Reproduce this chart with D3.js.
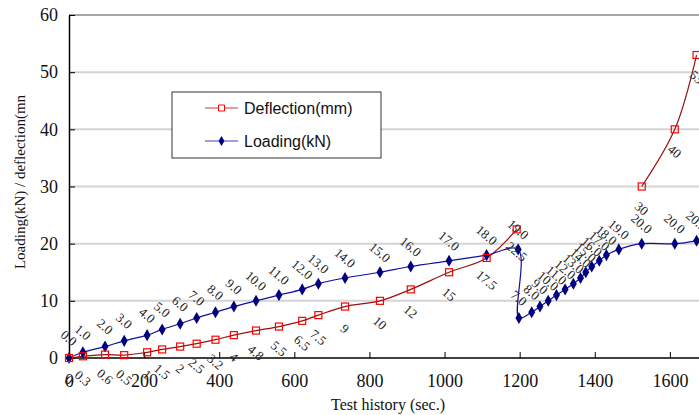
<!DOCTYPE html>
<html>
<head>
<meta charset="utf-8">
<script src="https://cdn.jsdelivr.net/npm/d3@7"></script>
<style>
  body { margin: 0; background: #fff; }
  svg { display: block; }
</style>
</head>
<body>
<svg id="chart" width="699" height="415"></svg>
<script>
// Loading (kN) series
var loadTime = [0, 37, 96, 147, 208, 248, 296, 340, 390, 439, 498, 559, 621, 664, 735, 828, 910, 1012, 1112, 1196,
  1198, 1232, 1254, 1276, 1298, 1321, 1343, 1362, 1376, 1392, 1412, 1431, 1464, 1525, 1613, 1671];
var loadVal = [0, 1, 2, 3, 4, 5, 6, 7, 8, 9, 10, 11, 12, 13, 14, 15, 16, 17, 18, 19,
  7, 8, 9, 10, 11, 12, 13, 14, 15, 16, 17, 18, 19, 20, 20, 20.5];

// Deflection (mm) series, null = no reading
var defTime = [0, 37, 96, 147, 208, 248, 296, 340, 390, 439, 498, 559, 621, 664, 735, 828, 910, 1012, 1112, 1192,
  1300, 1525, 1613, 1671];
var defVal = [0, 0.3, 0.6, 0.5, 1, 1.5, 2, 2.5, 3.2, 4, 4.8, 5.5, 6.5, 7.5, 9, 10, 12, 15, 17.5, 22.5,
  null, 30, 40, 53];

var xTicks = [0, 200, 400, 600, 800, 1000, 1200, 1400, 1600];
var yTicks = [0, 10, 20, 30, 40, 50, 60];
var seriesNames = ["Deflection(mm)", "Loading(kN)"];

var svg = d3.select("#chart");
var x = d3.scaleLinear().domain([0, 1800]).range([69, 745]);
var y = d3.scaleLinear().domain([0, 60]).range([358, 15]);

// gridlines
svg.append("g").selectAll("line")
  .data(yTicks.filter(function (d) { return d > 0; }))
  .enter().append("line")
  .attr("x1", x(0)).attr("x2", 699)
  .attr("y1", function (d) { return y(d); }).attr("y2", function (d) { return y(d); })
  .attr("stroke", function (d) { return d === 60 ? "#888" : "#d4d4d4"; })
  .attr("stroke-width", function (d) { return d === 60 ? 1.5 : 2; });

// axes
var xAxis = svg.append("g").attr("transform", "translate(0," + y(0) + ")")
  .call(d3.axisBottom(x).tickValues(xTicks).tickFormat(d3.format("d"))
    .tickSizeInner(-6).tickSizeOuter(0).tickPadding(16));
var yAxis = svg.append("g").attr("transform", "translate(" + x(0) + ",0)")
  .call(d3.axisLeft(y).tickValues(yTicks).tickSizeInner(-6).tickSizeOuter(0).tickPadding(11));
[xAxis, yAxis].forEach(function (a) {
  a.select(".domain").attr("stroke", "#000").attr("stroke-width", 1.5);
  a.selectAll(".tick line").attr("stroke", "#000");
  a.selectAll("text").attr("font-family", "Liberation Serif, serif").attr("font-size", 18).attr("fill", "#111");
});
xAxis.select(".domain").attr("d", "M" + x(0) + ",0H699");

var loadPts = loadTime.map(function (t, i) { return { t: t, v: loadVal[i] }; });
var defPts = defTime.map(function (t, i) { return { t: t, v: defVal[i] }; });

var line = d3.line()
  .defined(function (d) { return d.v !== null; })
  .x(function (d) { return x(d.t); })
  .y(function (d) { return y(d.v); })
  .curve(d3.curveCatmullRom.alpha(0.5));

svg.append("path").datum(defPts).attr("d", line)
  .attr("fill", "none").attr("stroke", "#990f0f").attr("stroke-width", 1.2);
svg.append("path").datum(loadPts).attr("d", line)
  .attr("fill", "none").attr("stroke", "#1010a0").attr("stroke-width", 1.2);

var diamond = d3.symbol().type(d3.symbolDiamond).size(42);
svg.append("g").selectAll("path").data(loadPts).enter().append("path")
  .attr("d", diamond)
  .attr("transform", function (d) { return "translate(" + x(d.t) + "," + y(d.v) + ")"; })
  .attr("fill", "#000080");

svg.append("g").selectAll("rect").data(defPts.filter(function (d) { return d.v !== null; })).enter().append("rect")
  .attr("x", function (d) { return x(d.t) - 3.5; }).attr("y", function (d) { return y(d.v) - 3.5; })
  .attr("width", 7).attr("height", 7)
  .attr("fill", "none").attr("stroke", "#ff0000").attr("stroke-width", 1.2);

// data labels
var labelGroup = svg.append("g")
  .attr("font-family", "Liberation Serif, serif").attr("font-size", 13).attr("fill", "#222")
  .attr("text-anchor", "middle");
labelGroup.selectAll("text.load").data(loadPts).enter().append("text")
  .attr("transform", function (d) { return "translate(" + x(d.t) + "," + (y(d.v) - 20) + ") rotate(40)"; })
  .attr("dy", "0.35em")
  .text(function (d) { return d.v.toFixed(1); });
labelGroup.selectAll("text.def").data(defPts.filter(function (d) { return d.v !== null; })).enter().append("text")
  .attr("transform", function (d) { return "translate(" + x(d.t) + "," + (y(d.v) + 22) + ") rotate(40)"; })
  .attr("dy", "0.35em")
  .text(function (d) { return String(d.v); });

// axis titles
svg.append("text").attr("x", 388).attr("y", 410)
  .attr("text-anchor", "middle").attr("font-family", "Liberation Serif, serif").attr("font-size", 16)
  .attr("fill", "#111").text("Test history (sec.)");
svg.append("text").attr("transform", "translate(25,182) rotate(-90)")
  .attr("text-anchor", "middle").attr("font-family", "Liberation Serif, serif").attr("font-size", 15)
  .attr("fill", "#111").text("Loading(kN) / deflection(mn");

// legend
var legend = svg.append("g").attr("transform", "translate(172,92)");
legend.append("rect").attr("width", 209).attr("height", 66)
  .attr("fill", "#fff").attr("stroke", "#333").attr("stroke-width", 1);
var items = legend.selectAll("g.item").data(seriesNames).enter().append("g")
  .attr("transform", function (d, i) { return "translate(0," + (16 + i * 33) + ")"; });
items.append("line").attr("x1", 33).attr("x2", 66)
  .attr("stroke", function (d, i) { return i === 0 ? "#c04040" : "#4040c0"; }).attr("stroke-width", 1.2);
items.append("path")
  .attr("d", function (d, i) { return i === 0 ? "M-3,-3h6v6h-6z" : d3.symbol().type(d3.symbolDiamond).size(30)(); })
  .attr("transform", "translate(49.5,0)")
  .attr("fill", function (d, i) { return i === 0 ? "#fff" : "#000080"; })
  .attr("stroke", function (d, i) { return i === 0 ? "#ff0000" : "none"; });
items.append("text").attr("x", 72).attr("dy", "0.35em")
  .attr("font-family", "Liberation Sans, Arial, sans-serif").attr("font-size", 16).attr("fill", "#111")
  .text(function (d) { return d; });
</script>
</body>
</html>
